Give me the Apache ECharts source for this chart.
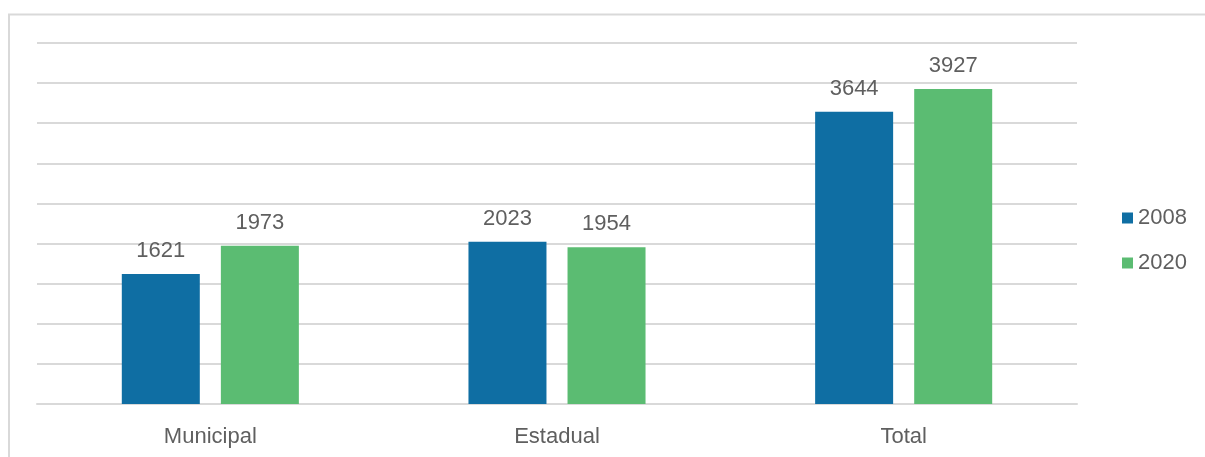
<!DOCTYPE html>
<html>
<head>
<meta charset="utf-8">
<script src="https://cdn.jsdelivr.net/npm/echarts@6/dist/echarts.min.js"></script>
<style>
  html, body { margin: 0; padding: 0; background: #fff; }
  #chart { width: 1205px; height: 457px; }
</style>
</head>
<body>
<div id="chart"></div>
<script>
var categories = ['Municipal', 'Estadual', 'Total'];
var years = ['2008', '2020'];
var values2008 = [1621, 2023, 3644];
var values2020 = [1973, 1954, 3927];

var chart = echarts.init(document.getElementById('chart'));
var font = 'Liberation Sans';
var label = {
    show: true,
    position: 'top',
    distance: 12,
    color: '#5f5f5f',
    fontSize: 22,
    fontFamily: font
};

chart.setOption({
    animation: false,
    textStyle: { fontFamily: font },
    graphic: [{
        type: 'polyline',
        shape: { points: [[9, 470], [9, 14.5], [1210, 14.5]] },
        style: { stroke: '#d9d9d9', lineWidth: 2, fill: null }
    }],
    legend: {
        orient: 'vertical',
        left: 1117,
        top: 202,
        itemWidth: 11,
        itemHeight: 11,
        itemGap: 23,
        icon: 'rect',
        textStyle: { color: '#5f5f5f', fontSize: 22, fontFamily: font },
        data: years
    },
    grid: { left: 37, right: 128, top: 43, bottom: 53 },
    xAxis: {
        type: 'category',
        data: categories,
        axisTick: { show: false },
        axisLine: { lineStyle: { color: '#d9d9d9', width: 2 } },
        axisLabel: { color: '#5f5f5f', fontSize: 22, margin: 22, fontFamily: font }
    },
    yAxis: {
        type: 'value',
        min: 0,
        max: 4500,
        interval: 500,
        axisLabel: { show: false },
        axisLine: { show: false },
        axisTick: { show: false },
        splitLine: { lineStyle: { color: '#d9d9d9', width: 2 } }
    },
    series: [{
        name: '2008',
        type: 'bar',
        data: values2008,
        barWidth: 78,
        barGap: '27%',
        itemStyle: { color: '#0f6ea3' },
        label: label
    }, {
        name: '2020',
        type: 'bar',
        data: values2020,
        barWidth: 78,
        itemStyle: { color: '#5bbc72' },
        label: label
    }]
});
</script>
</body>
</html>
